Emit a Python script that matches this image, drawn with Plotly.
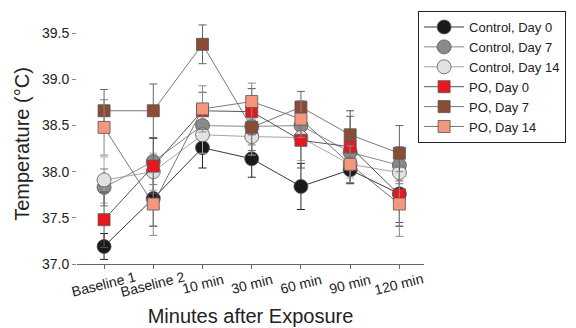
import plotly.graph_objects as go

categories = ["Baseline 1", "Baseline 2", "10 min", "30 min", "60 min", "90 min", "120 min"]

series_names = ["Control, Day 0", "Control, Day 7", "Control, Day 14",
                "PO, Day 0", "PO, Day 7", "PO, Day 14"]

ctrl_d0 = [37.19, 37.71, 38.26, 38.14, 37.84, 38.02, 37.76]
ctrl_d7 = [37.83, 38.11, 38.50, 38.49, 38.50, 38.21, 38.07]
ctrl_d14 = [37.91, 38.00, 38.40, 38.38, 38.37, 38.08, 37.99]
po_d0 = [37.48, 38.06, 38.66, 38.65, 38.34, 38.27, 37.75]
po_d7 = [38.66, 38.66, 39.38, 38.48, 38.70, 38.40, 38.20]
po_d14 = [38.48, 37.65, 38.68, 38.76, 38.57, 38.08, 37.65]

ctrl_d0_err = [0.14, 0.30, 0.22, 0.20, 0.25, 0.15, 0.35]
ctrl_d7_err = [0.20, 0.25, 0.15, 0.20, 0.20, 0.15, 0.20]
ctrl_d14_err = [0.25, 0.20, 0.20, 0.20, 0.25, 0.15, 0.20]
po_d0_err = [0.30, 0.30, 0.20, 0.25, 0.30, 0.39, 0.30]
po_d7_err = [0.23, 0.29, 0.21, 0.25, 0.17, 0.20, 0.30]
po_d14_err = [0.30, 0.34, 0.25, 0.20, 0.20, 0.20, 0.35]

values = [ctrl_d0, ctrl_d7, ctrl_d14, po_d0, po_d7, po_d14]
errors = [ctrl_d0_err, ctrl_d7_err, ctrl_d14_err, po_d0_err, po_d7_err, po_d14_err]
colors = ["#1a1a1a", "#8a8a8a", "#e2e2e2", "#e8161e", "#8c4b36", "#f4977c"]
symbols = ["circle", "circle", "circle", "square", "square", "square"]
sizes = [14, 14, 14, 12, 12, 12]
line_colors = ["#222222", "#7a7a7a", "#9a9a9a", "#444444", "#6a6a6a", "#6a6a6a"]
err_colors = ["#222222", "#777777", "#aaaaaa", "#555555", "#666666", "#888888"]

FONT = "Liberation Sans, Arial, sans-serif"

fig = go.Figure()
for name, ys, es, c, s, sz, lc, ec in zip(series_names, values, errors, colors,
                                          symbols, sizes, line_colors, err_colors):
    fig.add_trace(go.Scatter(
        x=categories, y=ys, name=name, mode="lines+markers",
        line=dict(color=lc, width=0.9),
        marker=dict(symbol=s, size=sz, color=c, line=dict(color="#555555", width=0.8)),
        error_y=dict(type="data", array=es, visible=True, color=ec, thickness=1, width=4),
    ))

for cat in categories:
    fig.add_annotation(x=cat, xref="x", y=-0.085, yref="paper", text=cat,
                       showarrow=False, textangle=-14, xanchor="center", yanchor="middle",
                       font=dict(family=FONT, size=14, color="#222222"))

fig.update_layout(
    width=576, height=328,
    margin=dict(l=77, r=152, t=24, b=64, autoexpand=False),
    paper_bgcolor="white", plot_bgcolor="white",
    font=dict(family=FONT, color="#222222"),
    showlegend=True,
    legend=dict(x=0.983, y=1.054, xanchor="left", yanchor="top",
                bordercolor="#222222", borderwidth=1, bgcolor="white",
                font=dict(family=FONT, size=13, color="#222222"),
                itemwidth=40, tracegroupgap=0),
    xaxis=dict(type="category", range=[-0.55, 6.5], showticklabels=False,
               ticks="outside", ticklen=4, tickcolor="#666666",
               showline=True, linecolor="#666666", linewidth=1,
               showgrid=False, zeroline=False,
               title=dict(text="Minutes after Exposure", standoff=40,
                          font=dict(family=FONT, size=20, color="#222222"))),
    yaxis=dict(range=[37.0, 39.6], tickvals=[37.0, 37.5, 38.0, 38.5, 39.0, 39.5],
               tickformat=".1f", ticks="outside", ticklen=4, tickcolor="#888888",
               showline=False, showgrid=False, zeroline=False,
               tickfont=dict(family=FONT, size=14, color="#222222"),
               title=dict(text="Temperature (°C)", standoff=6,
                          font=dict(family=FONT, size=20, color="#222222"))),
)

fig.write_html("out.html")
